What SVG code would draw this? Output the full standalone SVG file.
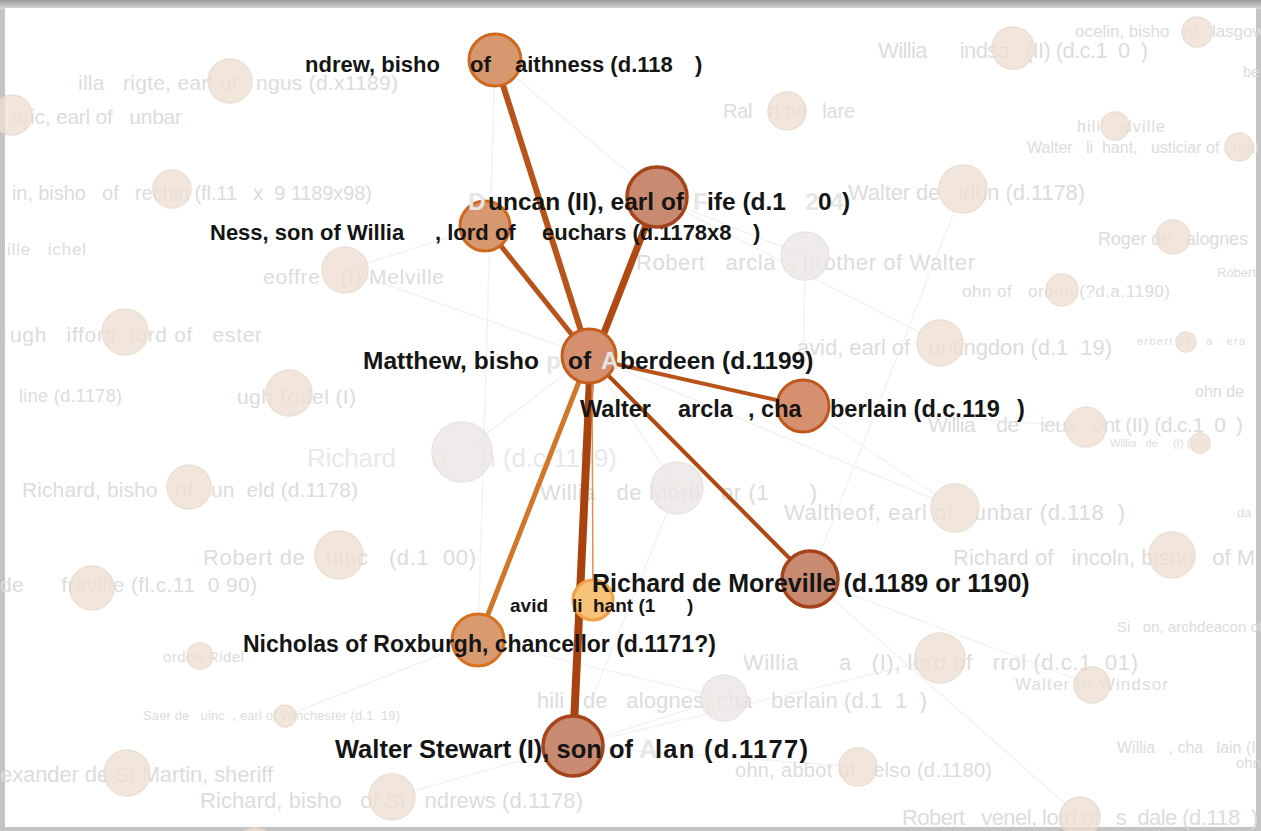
<svg xmlns="http://www.w3.org/2000/svg" width="1261" height="831" viewBox="0 0 1261 831">
<defs>
<linearGradient id="topg" x1="0" y1="0" x2="0" y2="1">
<stop offset="0" stop-color="#9a9a9a"/><stop offset="1" stop-color="#d8d8d8"/>
</linearGradient>
<style>
.ft{font-family:"Liberation Sans",Arial,sans-serif;fill:#dcdcdc;white-space:pre}
.ft2{font-family:"Liberation Sans",Arial,sans-serif;fill:#e9e9e9;white-space:pre}
.bl{font-family:"Liberation Sans",Arial,sans-serif;font-weight:bold;fill:#151515;white-space:pre}
.gh{font-family:"Liberation Sans",Arial,sans-serif;font-weight:bold;fill:#e6e6e6;white-space:pre}
.fn{fill:#efe0d3;stroke:#e6d7cb;stroke-width:1.5;opacity:.78}
.gn{fill:#ebe7e5;stroke:#e3dfdc;stroke-width:1.5;opacity:.8}
.fe{stroke:#f3f3f3;stroke-width:1.5;fill:none}
.he{fill:none;stroke-linecap:round}
.nl{fill:#d6986f;stroke:#d0691f;stroke-width:3}
.nd{fill:#c98a72;stroke:#a5441a;stroke-width:3.5}
</style>
</defs>
<rect x="0" y="0" width="1261" height="831" fill="#c4c4c4"/>
<rect x="0" y="0" width="1261" height="9" fill="url(#topg)"/>
<rect x="5" y="8" width="1251" height="819" fill="#ffffff"/>

<g id="background-edges">
<line class="fe" x1="495" y1="60" x2="657" y2="197"/>
<line class="fe" x1="495" y1="60" x2="478" y2="640"/>
<line class="fe" x1="963" y1="189" x2="810" y2="579"/>
<line class="fe" x1="589" y1="356" x2="955" y2="508"/>
<line class="fe" x1="810" y1="579" x2="1080" y2="817"/>
<line class="fe" x1="573" y1="746" x2="858" y2="767"/>
<line class="fe" x1="573" y1="746" x2="724" y2="698"/>
<line class="fe" x1="573" y1="746" x2="392" y2="797"/>
<line class="fe" x1="573" y1="746" x2="940" y2="658"/>
<line class="fe" x1="478" y1="640" x2="285" y2="716"/>
<line class="fe" x1="478" y1="640" x2="724" y2="698"/>
<line class="fe" x1="589" y1="356" x2="462" y2="452"/>
<line class="fe" x1="589" y1="356" x2="677" y2="488"/>
<line class="fe" x1="589" y1="356" x2="345" y2="270"/>
<line class="fe" x1="657" y1="197" x2="805" y2="256"/>
<line class="fe" x1="657" y1="197" x2="940" y2="343"/>
<line class="fe" x1="803" y1="406" x2="1086" y2="427"/>
<line class="fe" x1="803" y1="406" x2="955" y2="508"/>
<line class="fe" x1="803" y1="406" x2="805" y2="256"/>
<line class="fe" x1="485" y1="226" x2="345" y2="270"/>
<line class="fe" x1="810" y1="579" x2="1092" y2="685"/>
<line class="fe" x1="677" y1="488" x2="573" y2="746"/>
</g>

<g id="background-nodes">
<g id="n-angus"><text class="ft" x="78" y="90" font-size="21" textLength="320" lengthAdjust="spacing">illa   rigte, earl of   ngus (d.x1189)</text><circle class="fn" cx="230" cy="81" r="22"/></g>
<g id="n-dunbar1"><text class="ft" x="12" y="124" font-size="21" textLength="170" lengthAdjust="spacing">aric, earl of   unbar</text><circle class="fn" cx="12" cy="115" r="20"/></g>
<g id="n-brechin"><text class="ft" x="12" y="200" font-size="20" textLength="360" lengthAdjust="spacing">in, bisho   of   rechin (fl.11   x  9 1189x98)</text><circle class="fn" cx="172" cy="189" r="19"/></g>
<g id="n-ichel"><text class="ft" x="7" y="255" font-size="17" textLength="79" lengthAdjust="spacing">ille   ichel</text></g>
<g id="n-melville"><text class="ft" x="263" y="284" font-size="21" textLength="181" lengthAdjust="spacing">eoffre   (I) Melville</text><circle class="fn" cx="345" cy="270" r="23"/></g>
<g id="n-giffard"><text class="ft" x="10" y="342" font-size="21" textLength="252" lengthAdjust="spacing">ugh   ifford, lord of   ester</text><circle class="fn" cx="125" cy="332" r="23"/></g>
<g id="n-line"><text class="ft" x="19" y="402" font-size="18" textLength="103" lengthAdjust="spacing">line (d.1178)</text></g>
<g id="n-ridel"><text class="ft" x="237" y="404" font-size="21" textLength="119" lengthAdjust="spacing">ugh Ridel (I)</text><circle class="fn" cx="289" cy="393" r="23"/></g>
<g id="n-richard-c1199"><text class="ft2" x="307" y="467" font-size="26" textLength="310" lengthAdjust="spacing">Richard     o     n (d.c.1199)</text><circle class="gn" cx="462" cy="452" r="30"/></g>
<g id="n-dunkeld"><text class="ft" x="22" y="497" font-size="21" textLength="336" lengthAdjust="spacing">Richard, bisho   of   un  eld (d.1178)</text><circle class="fn" cx="189" cy="487" r="22"/></g>
<g id="n-quincy"><text class="ft" x="203" y="565" font-size="22" textLength="273" lengthAdjust="spacing">Robert de   uinc   (d.1  00)</text><circle class="fn" cx="339" cy="555" r="24"/></g>
<g id="n-umfraville"><text class="ft" x="0" y="592" font-size="21" textLength="257" lengthAdjust="spacing">de      fraville (fl.c.11  0 90)</text><circle class="fn" cx="92" cy="588" r="22"/></g>
<g id="n-gordon"><text class="ft" x="163" y="662" font-size="15" textLength="81" lengthAdjust="spacing">ordon Ridel</text><circle class="fn" cx="200" cy="656" r="13"/></g>
<g id="n-saer"><text class="ft" x="143" y="720" font-size="13" textLength="257" lengthAdjust="spacing">Saer de   uinc  , earl of Winchester (d.1  19)</text><circle class="fn" cx="285" cy="716" r="11"/></g>
<g id="n-stmartin"><text class="ft" x="0" y="782" font-size="22" textLength="273" lengthAdjust="spacing">exander de St Martin, sheriff</text><circle class="fn" cx="127" cy="773" r="23"/></g>
<g id="n-standrews"><text class="ft" x="200" y="808" font-size="22" textLength="383" lengthAdjust="spacing">Richard, bisho   of St   ndrews (d.1178)</text><circle class="fn" cx="392" cy="797" r="23"/></g>
<g id="n-bottom"><circle class="fn" cx="255" cy="848" r="20"/></g>
<g id="n-mortimer"><text class="ft" x="540" y="500" font-size="22" textLength="277" lengthAdjust="spacing">Willia   de Morti   or (1      )</text><circle class="gn" cx="677" cy="488" r="26"/></g>
<g id="n-waltheof"><text class="ft" x="784" y="520" font-size="22" textLength="341" lengthAdjust="spacing">Waltheof, earl of   unbar (d.118  )</text><circle class="fn" cx="955" cy="508" r="24"/></g>
<g id="n-robert-barclay"><text class="ft" x="636" y="270" font-size="22" textLength="339" lengthAdjust="spacing">Robert   arcla  , brother of Walter</text><circle class="gn" cx="805" cy="256" r="24"/></g>
<g id="n-idun"><text class="ft" x="848" y="200" font-size="22" textLength="237" lengthAdjust="spacing">Walter de   idun (d.1178)</text><circle class="fn" cx="963" cy="189" r="24"/></g>
<g id="n-lindsay"><text class="ft" x="878" y="58" font-size="22" textLength="270" lengthAdjust="spacing">Willia      indsa   (II) (d.c.1  0  )</text><circle class="fn" cx="1013" cy="48" r="21"/></g>
<g id="n-jocelin"><text class="ft" x="1075" y="37" font-size="17">ocelin, bisho   of   lasgow</text><circle class="fn" cx="1197" cy="32" r="15"/></g>
<g id="n-ralph"><text class="ft" x="723" y="118" font-size="20" textLength="132" lengthAdjust="spacing">Ral   h de   lare</text><circle class="fn" cx="787" cy="111" r="19"/></g>
<g id="n-be"><text class="ft" x="1243" y="77" font-size="15">be</text></g>
<g id="n-philip-melville"><text class="ft" x="1077" y="132" font-size="16" textLength="88" lengthAdjust="spacing">hili   elville</text><circle class="fn" cx="1115" cy="126" r="14"/></g>
<g id="n-walter-olifard"><text class="ft" x="1027" y="153" font-size="16">Walter   li  hant,   usticiar of   othi</text><circle class="fn" cx="1239" cy="147" r="14"/></g>
<g id="n-roger"><text class="ft" x="1098" y="245" font-size="18" textLength="150" lengthAdjust="spacing">Roger de   alognes</text><circle class="fn" cx="1173" cy="237" r="17"/></g>
<g id="n-robert-r"><text class="ft" x="1217" y="277" font-size="13">Robert</text></g>
<g id="n-gordon2"><text class="ft" x="962" y="297" font-size="17" textLength="208" lengthAdjust="spacing">ohn of   ordon (?d.a.1190)</text><circle class="fn" cx="1062" cy="290" r="16"/></g>
<g id="n-huntingdon"><text class="ft" x="797" y="355" font-size="22" textLength="315" lengthAdjust="spacing">avid, earl of   untingdon (d.1  19)</text><circle class="fn" cx="940" cy="343" r="23"/></g>
<g id="n-herbert"><text class="ft" x="1137" y="345" font-size="11" textLength="108" lengthAdjust="spacing">erbert de   a   era</text><circle class="fn" cx="1186" cy="342" r="10"/></g>
<g id="n-johnde"><text class="ft" x="1195" y="397" font-size="16">ohn de</text></g>
<g id="n-vieuxpont"><text class="ft" x="928" y="432" font-size="21" textLength="315" lengthAdjust="spacing">Willia    de    ieux   ont (II) (d.c.1  0  )</text><circle class="fn" cx="1086" cy="427" r="20"/></g>
<g id="n-vieuxpont2"><text class="ft" x="1110" y="447" font-size="11">Willia   de     (I) (d.1</text><circle class="fn" cx="1200" cy="443" r="10"/></g>
<g id="n-da"><text class="ft" x="1237" y="517" font-size="13">da</text></g>
<g id="n-lincoln"><text class="ft" x="953" y="565" font-size="22">Richard of   incoln, bisho   of M</text><circle class="fn" cx="1172" cy="555" r="23"/></g>
<g id="n-simon"><text class="ft" x="1117" y="632" font-size="15">Si   on, archdeacon of</text></g>
<g id="n-hay"><text class="ft" x="743" y="670" font-size="22" textLength="395" lengthAdjust="spacing">Willia      a   (I), lord of   rrol (d.c.1  01)</text><circle class="fn" cx="940" cy="658" r="25"/></g>
<g id="n-windsor"><text class="ft" x="1015" y="690" font-size="17" textLength="153" lengthAdjust="spacing">Walter of Windsor</text><circle class="fn" cx="1092" cy="685" r="18"/></g>
<g id="n-philip-valognes"><text class="ft" x="537" y="708" font-size="22" textLength="390" lengthAdjust="spacing">hili   de   alognes, cha   berlain (d.1  1  )</text><circle class="gn" cx="724" cy="698" r="23"/></g>
<g id="n-kelso"><text class="ft" x="735" y="777" font-size="20" textLength="257" lengthAdjust="spacing">ohn, abbot of   elso (d.1180)</text><circle class="fn" cx="858" cy="767" r="19"/></g>
<g id="n-chamberlain"><text class="ft" x="1117" y="753" font-size="16">Willia   , cha   lain (I</text><text class="ft" x="1236" y="768" font-size="15">ohn</text></g>
<g id="n-avenel"><text class="ft" x="902" y="825" font-size="22" textLength="356" lengthAdjust="spacing">Robert   venel, lord of   s  dale (d.118  )</text><circle class="fn" cx="1080" cy="817" r="20"/></g>
</g>

<g id="connectors">
<line class="he" x1="495" y1="60" x2="589" y2="356" stroke="#b8531a" stroke-width="6"/>
<line class="he" x1="485" y1="226" x2="589" y2="356" stroke="#b8531a" stroke-width="5"/>
<line class="he" x1="657" y1="197" x2="595" y2="356" stroke="#b04a12" stroke-width="7"/>
<line class="he" x1="589" y1="358" x2="803" y2="406" stroke="#b8531a" stroke-width="4"/>
<line class="he" x1="589" y1="356" x2="810" y2="579" stroke="#b04a12" stroke-width="4"/>
<line class="he" x1="589" y1="356" x2="478" y2="640" stroke="#d2772a" stroke-width="5"/>
<line class="he" x1="591" y1="356" x2="573" y2="746" stroke="#a8420f" stroke-width="8"/>
<line class="he" x1="592" y1="360" x2="593" y2="600" stroke="#e09050" stroke-width="1.5"/>
</g>

<g id="node-david">
<circle cx="593" cy="600" r="20" fill="#f7c27a" stroke="#f0a24a" stroke-width="3"/>
<text class="bl" font-size="19" y="612"><tspan x="510">avid</tspan><tspan x="572">li</tspan><tspan x="593">hant (1</tspan><tspan x="687">)</tspan></text>
</g>
<g id="node-ness">
<circle class="nl" cx="485" cy="226" r="25"/>
<text class="bl" font-size="22" y="240"><tspan x="210">Ness, son of Willia</tspan><tspan x="435">, lord of</tspan><tspan x="542">euchars (d.1178x8</tspan><tspan x="753">)</tspan></text>
</g>
<g id="node-andrew">
<circle class="nl" cx="495" cy="60" r="26"/>
<text class="bl" font-size="22" y="72"><tspan x="305">ndrew, bisho</tspan><tspan x="470">of</tspan><tspan x="515">aithness (d.118</tspan><tspan x="695">)</tspan></text>
</g>
<g id="node-duncan">
<circle class="nd" cx="657" cy="197" r="30"/>
<text class="gh" font-size="24.5" y="210"><tspan x="468">D</tspan><tspan x="693">F</tspan><tspan x="805">2</tspan><tspan x="830">4</tspan></text>
<text class="bl" font-size="24.5" y="210"><tspan x="488">uncan (II), earl of</tspan><tspan x="707">ife (d.1</tspan><tspan x="818">0</tspan><tspan x="842">)</tspan></text>
</g>
<g id="node-matthew">
<circle cx="589" cy="356" r="27" fill="#d4906f" stroke="#c65e1e" stroke-width="3"/>
<text class="gh" font-size="24.5" y="369"><tspan x="546">p</tspan><tspan x="601">A</tspan></text>
<text class="bl" font-size="24.5" y="369"><tspan x="363">Matthew, bisho</tspan><tspan x="568">of</tspan><tspan x="620">berdeen (d.1199)</tspan></text>
</g>
<g id="node-walter-barclay">
<circle cx="803" cy="406" r="26" fill="#d4906f" stroke="#c0581c" stroke-width="3"/>
<text class="bl" font-size="23.5" y="417"><tspan x="580">Walter</tspan><tspan x="678">arcla</tspan><tspan x="748">, cha</tspan><tspan x="830">berlain (d.c.119</tspan><tspan x="1017">)</tspan></text>
</g>
<g id="node-nicholas">
<circle cx="478" cy="640" r="26" fill="#d99b70" stroke="#d67220" stroke-width="3"/>
<text class="bl" font-size="23" x="243" y="652">Nicholas of Roxburgh, chancellor (d.1171?)</text>
</g>
<g id="node-richard">
<circle class="nd" cx="810" cy="579" r="28"/>
<text class="bl" font-size="25" x="592" y="592">Richard de Moreville (d.1189 or 1190)</text>
</g>
<g id="node-walter-stewart">
<circle class="nd" cx="573" cy="746" r="30"/>
<text class="gh" font-size="25.5" x="639" y="758">A</text>
<text class="bl" font-size="25.5" y="758"><tspan x="335">Walter Stewart (I), son of</tspan><tspan x="655" textLength="153" lengthAdjust="spacing">lan (d.1177)</tspan></text>
</g>
</svg>
